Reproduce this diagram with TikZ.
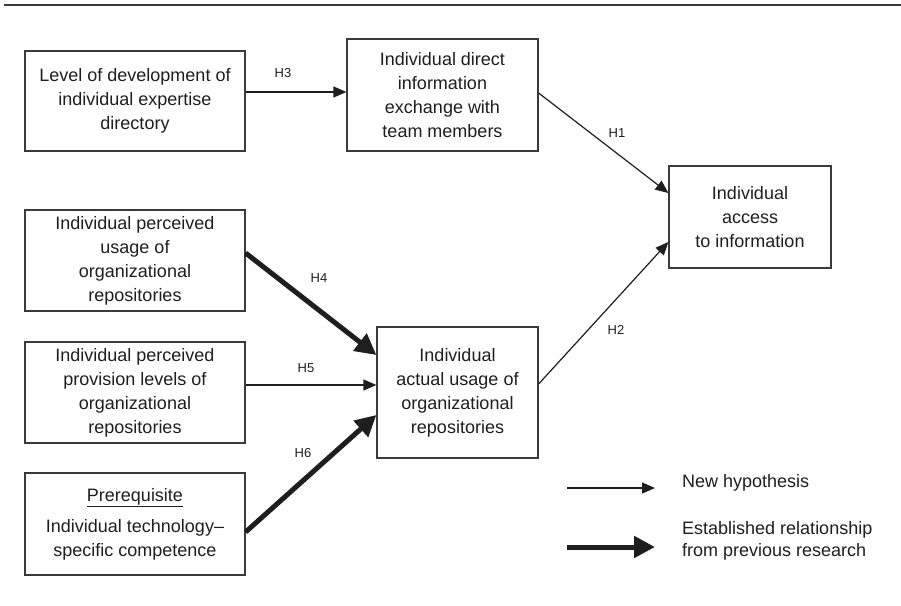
\documentclass[tikz,border=0pt]{standalone}
\usepackage{fontspec}
\setmainfont{Liberation Sans}
\usepackage{xcolor}
\usepackage{tikz}
\usetikzlibrary{positioning,calc,arrows.meta}

\definecolor{inkgray}{HTML}{1E1E1E}
\definecolor{framegray}{HTML}{3A3A3A}

\tikzset{
    construct/.style={draw=framegray, line width=1.2pt, align=center, inner sep=0pt,
        text=inkgray, font=\fontsize{18}{24}\selectfont},
    hlabel/.style={text=inkgray, font=\fontsize{13}{15}\selectfont, inner sep=0pt},
    newhyp/.style={draw=inkgray, line width=1.2pt, -{Triangle[length=13pt,width=11pt]}},
    established/.style={draw=inkgray, line width=5pt, -{Triangle[length=21pt,width=21pt]}},
}

\begin{document}
\begin{tikzpicture}[x=1pt, y=-1pt]
    \useasboundingbox (0,0) rectangle (901,605);

    % Rule on top
    \draw[framegray, line width=2.8pt] (4,5) -- (901,5);

    % Constructs
    \node[construct, minimum width=220pt, minimum height=100pt] (expertise) at (135,101)
        {Level of development of\\individual expertise\\directory};
    \node[construct, minimum width=191pt, minimum height=112pt] (direct) at (442.5,95)
        {Individual direct\\information\\exchange with\\team members};
    \node[construct, minimum width=162pt, minimum height=102pt] (access) at (750,217)
        {Individual\\access\\to information};
    \node[construct, minimum width=161pt, minimum height=131pt] (actual) at (457.5,392.5)
        {Individual\\actual usage of\\organizational\\repositories};

    % Constructs on the left
    \node[construct, minimum width=220pt, minimum height=101pt] (perceived) at (135,260.5)
        {Individual perceived\\usage of\\organizational\\repositories};
    \node[construct, minimum width=220pt, minimum height=101pt] (provision) at (135,392.5)
        {Individual perceived\\provision levels of\\organizational\\repositories};
    \node[construct, minimum width=220pt, minimum height=102pt] (competence) at (135,524)
        {\underline{Prerequisite}\\[7pt]Individual technology–\\specific competence};

    % Hypotheses
    \draw[newhyp] ([yshift=9pt]expertise.east) -- ([yshift=3pt]direct.west);
    \draw[newhyp] ([yshift=2pt]direct.east) -- ([yshift=24pt]access.west);
    \draw[newhyp] ([yshift=8.5pt]actual.east) -- ([yshift=-25pt]access.west);
    \draw[established] ([yshift=7.5pt]perceived.east) -- ([yshift=37.5pt]actual.west);
    \draw[newhyp] ([yshift=7.5pt]provision.east) -- ([yshift=7.5pt]actual.west);
    \draw[established] ([yshift=-8pt]competence.east) -- ([yshift=-22.5pt]actual.west);

    \foreach \name/\x/\y in {H3/283/73, H1/617/133, H2/616/330, H4/319/278, H5/306/368, H6/303/453} {
        \node[hlabel] (lbl\name) at (\x,\y) {\name};
    }

    % Legend
    \coordinate (thinstart) at (567,488);
    \coordinate (thinend) at (655,488);
    \coordinate (thickstart) at (567,547);
    \coordinate (thickend) at (655,547);
    \draw[newhyp] (thinstart) -- (thinend);
    \draw[established] (thickstart) -- (thickend);
    \node[text=inkgray, font=\fontsize{18}{22}\selectfont, anchor=west, inner sep=0pt] (newtext) at (682,483)
        {New hypothesis};
    \node[text=inkgray, font=\fontsize{18}{22}\selectfont, anchor=west, align=left, inner sep=0pt] (oldtext) at (682,541)
        {Established relationship\\from previous research};
\end{tikzpicture}
\end{document}
